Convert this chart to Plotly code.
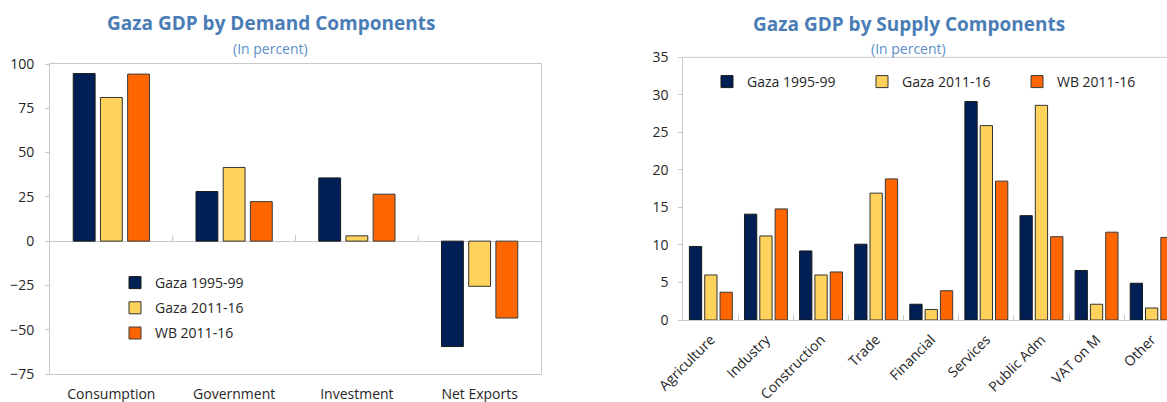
import plotly.graph_objects as go

# Demand side: shares of GDP (percent)
demand_cats = ["Consumption", "Government", "Investment", "Net Exports"]
d_gaza_9599 = [94.6, 28.0, 35.7, -59.5]
d_gaza_1116 = [81.1, 41.6, 3.0, -25.5]
d_wb_1116 = [94.3, 22.3, 26.5, -43.4]

# Supply side: shares of GDP (percent)
supply_cats = ["Agriculture", "Industry", "Construction", "Trade", "Financial",
               "Services", "Public Adm", "VAT on M", "Other"]
s_gaza_9599 = [9.8, 14.1, 9.2, 10.1, 2.1, 29.1, 13.9, 6.6, 4.9]
s_gaza_1116 = [6.0, 11.2, 6.0, 16.9, 1.4, 25.9, 28.6, 2.1, 1.6]
s_wb_1116 = [3.7, 14.8, 6.4, 18.8, 3.9, 18.5, 11.1, 11.7, 11.0]

series_names = ["Gaza 1995-99", "Gaza 2011-16", "WB 2011-16"]
colors = ["#001f55", "#ffd25c", "#ff6600"]
outline = ["#1a1a1a", "#333333", "#3a3a3a"]

W, H = 1167, 402
FONT = "Open Sans"
TXT = "#262626"
FRAME = "#c9c9c9"


def px_x(x):
    return x / W


def px_y(y):
    return 1 - y / H


fig = go.Figure()

# Bar geometry in category units
L_W, L_PITCH = 0.178, 0.2216
R_W, R_PITCH = 0.223, 0.278

left_vals = [d_gaza_9599, d_gaza_1116, d_wb_1116]
right_vals = [s_gaza_9599, s_gaza_1116, s_wb_1116]

for i, (name, vals) in enumerate(zip(series_names, left_vals)):
    fig.add_trace(go.Bar(
        x=demand_cats, y=vals, name=name,
        width=L_W, offset=(i - 1) * L_PITCH - L_W / 2,
        marker=dict(color=colors[i], line=dict(color=outline[i], width=1)),
        xaxis="x", yaxis="y", legend="legend", legendgroup=f"l{i}",
    ))

for i, (name, vals) in enumerate(zip(series_names, right_vals)):
    fig.add_trace(go.Bar(
        x=supply_cats, y=vals, name=name,
        width=R_W, offset=(i - 1) * R_PITCH - R_W / 2,
        marker=dict(color=colors[i], line=dict(color=outline[i], width=1)),
        xaxis="x2", yaxis="y2", legend="legend2",
    ))

shapes = []
# small category-boundary ticks sitting on the zero line of the demand chart
for k in range(1, len(demand_cats)):
    shapes.append(dict(
        type="line", xref="x", yref="y", x0=k - 0.5, x1=k - 0.5,
        ysizemode="pixel", yanchor=0, y0=0, y1=6,
        line=dict(color=FRAME, width=1),
    ))
# top border of the supply chart
shapes.append(dict(
    type="line", xref="paper", yref="paper",
    x0=683.3 / W, x1=1, y0=px_y(57.3), y1=px_y(57.3),
    line=dict(color=FRAME, width=1),
))

annotations = [
    dict(text="<b>Gaza GDP by Demand Components</b>", x=px_x(270.5), y=px_y(23),
         xref="paper", yref="paper", showarrow=False, xanchor="center", yanchor="middle",
         font=dict(family=FONT, size=19, color="#4a7db6")),
    dict(text="(In percent)", x=px_x(270.5), y=px_y(48),
         xref="paper", yref="paper", showarrow=False, xanchor="center", yanchor="middle",
         font=dict(family=FONT, size=14, color="#5b8fc8")),
    dict(text="<b>Gaza GDP by Supply Components</b>", x=px_x(908.6), y=px_y(23.5),
         xref="paper", yref="paper", showarrow=False, xanchor="center", yanchor="middle",
         font=dict(family=FONT, size=19, color="#4a7db6")),
    dict(text="(In percent)", x=px_x(908.6), y=px_y(48.5),
         xref="paper", yref="paper", showarrow=False, xanchor="center", yanchor="middle",
         font=dict(family=FONT, size=14, color="#5b8fc8")),
]

fig.update_layout(
    width=W, height=H,
    margin=dict(l=0, r=0, t=0, b=0, autoexpand=False),
    paper_bgcolor="white", plot_bgcolor="white",
    barmode="overlay",
    font=dict(family=FONT, size=14, color=TXT),
    shapes=shapes, annotations=annotations,
    xaxis=dict(
        domain=[px_x(50), px_x(541)], anchor="y", type="category",
        range=[-0.5, len(demand_cats) - 0.5], automargin=False,
        showline=True, mirror=True, linecolor=FRAME, linewidth=1,
        ticks="", showgrid=False, tickfont=dict(size=14, color=TXT),
        ticklabelstandoff=7,
    ),
    yaxis=dict(
        domain=[px_y(374), px_y(64)], anchor="x", automargin=False,
        range=[-75, 100], dtick=25, tick0=0,
        showline=True, mirror=True, linecolor=FRAME, linewidth=1,
        ticks="outside", ticklen=4, tickcolor=FRAME, showgrid=False,
        zeroline=True, zerolinecolor=FRAME, zerolinewidth=1,
        tickfont=dict(size=14, color=TXT), ticklabelstandoff=8,
    ),
    xaxis2=dict(
        domain=[px_x(683.3), 1.0], anchor="y2", type="category",
        range=[-0.5, -0.5 + (W - 683.3) / 55.1], automargin=False,
        showline=True, linecolor=FRAME, linewidth=1,
        ticks="inside", ticklen=5, tickcolor=FRAME, tickson="boundaries",
        showgrid=False, tickangle=-45, tickfont=dict(size=14, color=TXT),
        ticklabelstandoff=5,
    ),
    yaxis2=dict(
        domain=[px_y(320), px_y(57.3)], anchor="x2", automargin=False,
        range=[0, 35], dtick=5,
        showline=True, linecolor=FRAME, linewidth=1,
        ticks="outside", ticklen=4, tickcolor=FRAME, showgrid=False,
        zeroline=False, tickfont=dict(size=14, color=TXT), ticklabelstandoff=7,
    ),
    legend=dict(
        x=px_x(115), y=px_y(267), xanchor="left", yanchor="top",
        orientation="v", bgcolor="rgba(0,0,0,0)", font=dict(size=14, color=TXT),
        tracegroupgap=4,
    ),
    legend2=dict(
        x=px_x(707), y=px_y(66), xanchor="left", yanchor="top",
        orientation="h", bgcolor="rgba(0,0,0,0)", font=dict(size=14, color=TXT),
        entrywidth=110, entrywidthmode="pixels",
    ),
)

fig.write_html("out.html")
